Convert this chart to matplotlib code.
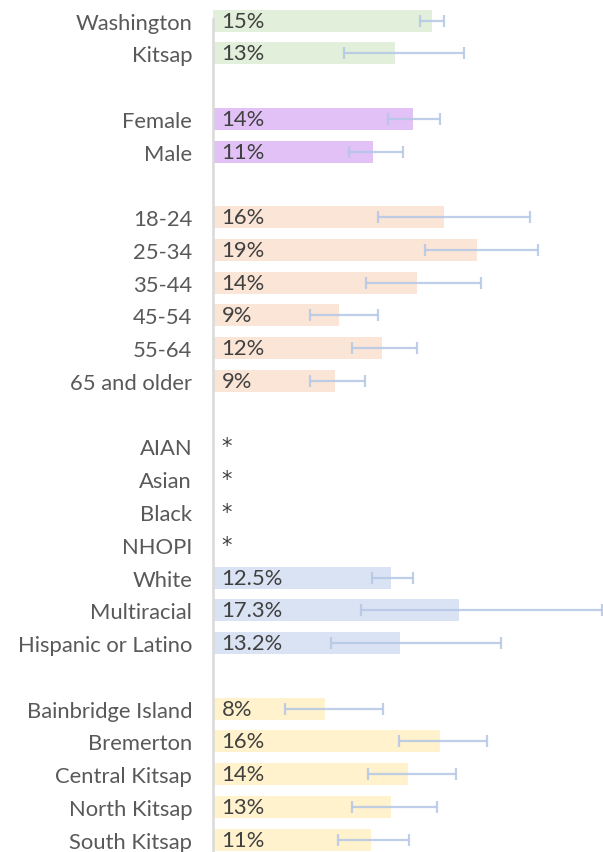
import numpy as np
import matplotlib.pyplot as plt

# rows top to bottom; empty strings are the gaps between groups
categories = ["Washington", "Kitsap", "",
              "Female", "Male", "",
              "18-24", "25-34", "35-44", "45-54", "55-64", "65 and older", "",
              "AIAN", "Asian", "Black", "NHOPI", "White", "Multiracial", "Hispanic or Latino", "",
              "Bainbridge Island", "Bremerton", "Central Kitsap", "North Kitsap", "South Kitsap"]
values = [15.4, 12.8, None,
          14.1, 11.3, None,
          16.3, 18.6, 14.4, 8.9, 11.9, 8.6, None,
          None, None, None, None, 12.5, 17.3, 13.2, None,
          7.9, 16.0, 13.7, 12.5, 11.1]
ci_low = [14.6, 9.2, None,
          12.3, 9.6, None,
          11.6, 14.9, 10.8, 6.8, 9.8, 6.8, None,
          None, None, None, None, 11.2, 10.4, 8.3, None,
          5.1, 13.1, 10.9, 9.8, 8.8]
ci_high = [16.3, 17.7, None,
           16.0, 13.4, None,
           22.3, 22.9, 18.9, 11.6, 14.4, 10.7, None,
           None, None, None, None, 14.1, 27.4, 20.3, None,
           12.0, 19.3, 17.1, 15.8, 13.8]
labels = ["15%", "13%", "",
          "14%", "11%", "",
          "16%", "19%", "14%", "9%", "12%", "9%", "",
          "*", "*", "*", "*", "12.5%", "17.3%", "13.2%", "",
          "8%", "16%", "14%", "13%", "11%"]
group_sizes = [3, 3, 7, 8, 5]
group_colors = ["#e2efda", "#e2c1f6", "#fbe5d6", "#dae3f3", "#fff2cc"]

colors = []
for n, c in zip(group_sizes, group_colors):
    colors += [c] * n

plt.rcParams['font.family'] = ['Lato', 'DejaVu Sans']
txt = "#404040"
fs = 15.8

fig = plt.figure(figsize=(6.03, 8.53), dpi=100)
ax = fig.add_axes([213 / 603, -4.0 / 853, 390 / 603, 851.8 / 853])

y = np.arange(len(categories))
v = np.array([np.nan if a is None else a for a in values])
lo = np.array([np.nan if a is None else a for a in ci_low])
hi = np.array([np.nan if a is None else a for a in ci_high])

ax.barh(y, np.nan_to_num(v), height=0.67, color=colors, zorder=1)

ok = ~np.isnan(v)
ax.errorbar(v[ok], y[ok], xerr=[v[ok] - lo[ok], hi[ok] - v[ok]], fmt='none',
            ecolor="#b4c7e7", elinewidth=1.6, capsize=4.3, capthick=1.6,
            alpha=0.85, zorder=2)

for yi, lab in zip(y, labels):
    if lab == "*":
        ax.text(0.6, yi, lab, va='center', ha='left', fontsize=15,
                family='DejaVu Sans', color=txt, zorder=3)
    elif lab:
        ax.text(0.6, yi, lab, va='center', ha='left', fontsize=fs, color=txt, zorder=3)

ax.set_yticks(y)
ax.set_yticklabels(categories, fontsize=fs, color="#595959")
ax.tick_params(axis='y', length=0, pad=15)
ax.set_ylim(25.5, -0.5)
ax.set_xlim(0, 390 / 14.2)
ax.set_xticks([])
for s in ['top', 'right', 'bottom']:
    ax.spines[s].set_visible(False)
ax.spines['left'].set_color("#d9d9d9")
ax.spines['left'].set_linewidth(1.8)
ax.spines['left'].set_bounds(-0.06, 25.5)

fig.savefig("out.png", dpi=100)
